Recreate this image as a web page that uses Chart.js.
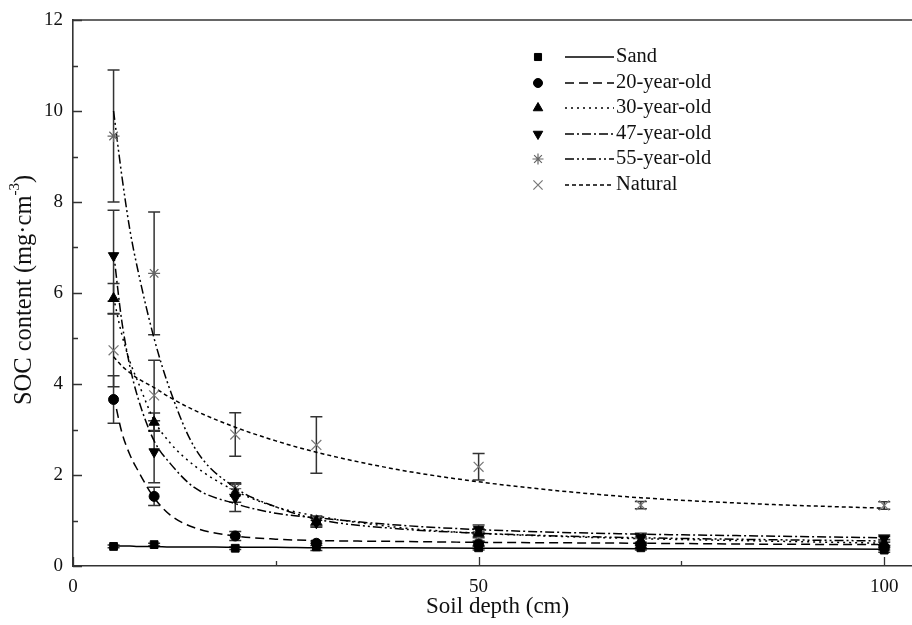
<!DOCTYPE html>
<html>
<head>
<meta charset="utf-8">
<script src="https://cdn.jsdelivr.net/npm/chart.js@4/dist/chart.umd.min.js"></script>
<style>
html,body{margin:0;padding:0;background:#fff;}
#wrap{width:912px;height:625px;position:relative;}
</style>
</head>
<body>
<div id="wrap"><canvas id="c" width="912" height="625"></canvas></div>
<script>
// ---- data ----
const seriesNames = ['Sand','20-year-old','30-year-old','47-year-old','55-year-old','Natural'];
const depths = [5, 10, 20, 30, 50, 70, 100];
const sandMean    = [0.43, 0.47, 0.39, 0.42, 0.40, 0.40, 0.35];
const sandErr     = [0.03, 0.03, 0.03, 0.08, 0.05, 0.05, 0.05];
const y20Mean     = [3.66, 1.53, 0.66, 0.50, 0.48, 0.45, 0.40];
const y20Err      = [0.52, 0.20, 0.10, 0.05, 0.05, 0.05, 0.05];
const y30Mean     = [5.88, 3.16, 1.60, 0.98, 0.72, 0.56, 0.50];
const y30Err      = [0.33, 0.20, 0.20, 0.10, 0.10, 0.08, 0.08];
const y47Mean     = [6.82, 2.51, 1.50, 0.95, 0.80, 0.62, 0.60];
const y47Err      = [1.00, 0.68, 0.30, 0.10, 0.10, 0.10, 0.08];
const y55Mean     = [9.45, 6.43, 1.70, 1.00, 0.65, 0.60, 0.55];
const y55Err      = [1.45, 1.35, 0.13, 0.10, 0.10, 0.10, 0.10];
const natMean     = [4.74, 3.75, 2.89, 2.66, 2.18, 1.34, 1.33];
const natErr      = [0.80, 0.77, 0.48, 0.62, 0.29, 0.08, 0.08];

// fitted curves at these depths
const curveX      = [5, 6, 7, 8, 10, 12, 15, 20, 25, 30, 40, 50, 60, 70, 85, 100];
const sandCurve   = [0.44,0.44,0.44,0.43,0.43,0.42,0.42,0.41,0.41,0.40,0.40,0.39,0.39,0.38,0.38,0.37];
const y20Curve    = [3.75,2.95,2.45,2.10,1.50,1.12,0.84,0.66,0.59,0.56,0.54,0.52,0.51,0.50,0.48,0.47];
const y30Curve    = [5.90,5.10,4.50,4.05,3.20,2.70,2.20,1.65,1.30,1.10,0.85,0.72,0.65,0.60,0.55,0.50];
const y47Curve    = [6.90,5.40,4.40,3.70,2.75,2.25,1.72,1.37,1.16,1.06,0.90,0.80,0.74,0.70,0.66,0.62];
const y55Curve    = [10.0,8.60,7.40,6.50,5.00,3.85,2.60,1.72,1.30,1.03,0.82,0.72,0.66,0.62,0.58,0.55];
const natCurve    = [4.60,4.40,4.25,4.12,3.92,3.70,3.42,3.05,2.75,2.50,2.12,1.85,1.65,1.50,1.36,1.27];

const xTickLabels = [0, 50, 100];
const yTickLabels = [0, 2, 4, 6, 8, 10, 12];

const xTitle = 'Soil depth (cm)';
const yTitleMain = 'SOC content (mg·cm';
const yTitleSup = '-3';
const yTitleEnd = ')';

// ---- styles ----
const means = [sandMean, y20Mean, y30Mean, y47Mean, y55Mean, natMean];
const errs = [sandErr, y20Err, y30Err, y47Err, y55Err, natErr];
const curves = [sandCurve, y20Curve, y30Curve, y47Curve, y55Curve, natCurve];
const markers = [
  {pointStyle:'rect', radius:5.5, rotation:0, fill:'#000', stroke:'#000', bw:1},
  {pointStyle:'circle', radius:5, rotation:0, fill:'#000', stroke:'#000', bw:1},
  {pointStyle:'triangle', radius:6, rotation:0, fill:'#000', stroke:'#000', bw:1},
  {pointStyle:'triangle', radius:6, rotation:180, fill:'#000', stroke:'#000', bw:1},
  {pointStyle:'star', radius:6, rotation:0, fill:'#666', stroke:'#666', bw:1.2},
  {pointStyle:'crossRot', radius:7, rotation:0, fill:'#777', stroke:'#777', bw:1.2}
];
const dashes = [[], [9,5], [2,4], [9,3,2,3], [9,3,2,3,2,3], [4,3]];

const FONT = "'Liberation Serif', 'Times New Roman', serif";

const datasets = [];
for (let i = 0; i < 6; i++) {
  datasets.push({
    label: seriesNames[i] + ' fit',
    type: 'scatter',
    data: curveX.map((x, j) => ({x: x, y: curves[i][j]})),
    showLine: true,
    borderColor: '#000',
    borderWidth: 1.5,
    borderDash: dashes[i],
    pointRadius: 0,
    fill: false,
    cubicInterpolationMode: 'monotone',
    order: 2
  });
}
for (let i = 0; i < 6; i++) {
  const m = markers[i];
  datasets.push({
    label: seriesNames[i],
    type: 'scatter',
    data: depths.map((x, j) => ({x: x, y: means[i][j]})),
    errs: errs[i],
    showLine: false,
    pointStyle: m.pointStyle,
    pointRadius: m.radius,
    pointRotation: m.rotation,
    pointBackgroundColor: m.fill,
    pointBorderColor: m.stroke,
    pointBorderWidth: m.bw,
    pointHoverRadius: m.radius,
    order: 1
  });
}

const errorBars = {
  id: 'errorBars',
  beforeDatasetsDraw(chart) {
    const ctx = chart.ctx, xs = chart.scales.x, ys = chart.scales.y;
    ctx.save();
    ctx.strokeStyle = '#333';
    ctx.lineWidth = 1.5;
    chart.data.datasets.forEach(ds => {
      if (!ds.errs) return;
      ds.data.forEach((p, j) => {
        const e = ds.errs[j];
        const px = xs.getPixelForValue(p.x);
        const top = ys.getPixelForValue(p.y + e);
        const bot = ys.getPixelForValue(p.y - e);
        ctx.beginPath();
        ctx.moveTo(px, top); ctx.lineTo(px, bot);
        ctx.moveTo(px - 6, top); ctx.lineTo(px + 6, top);
        ctx.moveTo(px - 6, bot); ctx.lineTo(px + 6, bot);
        ctx.stroke();
      });
    });
    ctx.restore();
  }
};

const frameAndText = {
  id: 'frameAndText',
  afterDraw(chart) {
    const ctx = chart.ctx, a = chart.chartArea, xs = chart.scales.x, ys = chart.scales.y;
    ctx.save();
    ctx.strokeStyle = '#333';
    ctx.lineWidth = 1.6;
    // top frame
    ctx.beginPath(); ctx.moveTo(a.left, a.top); ctx.lineTo(912, a.top); ctx.stroke();
    // ticks (inward)
    ctx.lineWidth = 1.3;
    ctx.beginPath();
    for (let v = 0; v <= 12; v++) {
      const py = Math.round(ys.getPixelForValue(v)) + 0.5;
      const len = (v % 2 === 0) ? 9 : 5;
      ctx.moveTo(a.left, py); ctx.lineTo(a.left + len, py);
    }
    for (let v = 0; v <= 100; v += 25) {
      const px = Math.round(xs.getPixelForValue(v)) + 0.5;
      const len = (v % 50 === 0) ? 9 : 5;
      ctx.moveTo(px, a.bottom); ctx.lineTo(px, a.bottom - len);
    }
    ctx.stroke();

    // axis titles
    ctx.fillStyle = '#111';
    ctx.font = '23px ' + FONT;
    ctx.textAlign = 'center';
    ctx.textBaseline = 'middle';
    ctx.fillText(xTitle, xs.getPixelForValue(50) + 19, 607);

    ctx.save();
    ctx.translate(25, 290);
    ctx.rotate(-Math.PI / 2);
    ctx.font = '24.5px ' + FONT;
    const w1 = ctx.measureText(yTitleMain).width;
    ctx.font = '15px ' + FONT;
    const w2 = ctx.measureText(yTitleSup).width;
    ctx.font = '24.5px ' + FONT;
    const w3 = ctx.measureText(yTitleEnd).width;
    const total = w1 + w2 + w3;
    let sx = -total / 2;
    ctx.textAlign = 'left';
    ctx.fillText(yTitleMain, sx, 0);
    sx += w1;
    ctx.font = '15px ' + FONT;
    ctx.fillText(yTitleSup, sx, -10);
    sx += w2;
    ctx.font = '24.5px ' + FONT;
    ctx.fillText(yTitleEnd, sx, 0);
    ctx.restore();

    // legend
    const rowY = [57, 83, 108, 134, 159, 185];
    for (let i = 0; i < 6; i++) {
      const y = rowY[i];
      const m = markers[i];
      ctx.fillStyle = m.fill;
      ctx.strokeStyle = m.stroke;
      ctx.lineWidth = m.bw;
      ctx.setLineDash([]);
      Chart.helpers.drawPoint(ctx, {pointStyle: m.pointStyle, radius: m.radius - 0.5, rotation: m.rotation, borderWidth: m.bw}, 538, y);
      ctx.strokeStyle = '#000';
      ctx.lineWidth = 1.5;
      ctx.setLineDash(dashes[i]);
      ctx.beginPath(); ctx.moveTo(565, y); ctx.lineTo(614, y); ctx.stroke();
      ctx.setLineDash([]);
      ctx.fillStyle = '#111';
      ctx.font = '20.5px ' + FONT;
      ctx.textAlign = 'left';
      ctx.textBaseline = 'middle';
      ctx.fillText(seriesNames[i], 616, y);
    }
    ctx.restore();
  }
};

new Chart(document.getElementById('c'), {
  type: 'scatter',
  data: {datasets},
  options: {
    responsive: false,
    animation: false,
    devicePixelRatio: 1,
    layout: {autoPadding: false, padding: {left: 0, right: 1, top: 20, bottom: 0}},
    plugins: {legend: {display: false}, tooltip: {enabled: false}},
    scales: {
      x: {
        type: 'linear', min: 0, max: 103.3,
        afterFit(s) { s.height = 59; s.paddingLeft = 0; s.paddingRight = 0; },
        grid: {display: false, drawTicks: false},
        border: {display: true, color: '#333', width: 1.6},
        afterBuildTicks(s) { s.ticks = xTickLabels.map(v => ({value: v})); },
        ticks: {padding: 10, color: '#111', font: {family: FONT, size: 19}, maxRotation: 0}
      },
      y: {
        type: 'linear', min: 0, max: 12,
        afterFit(s) { s.width = 73; s.paddingTop = 0; s.paddingBottom = 0; },
        grid: {display: false, drawTicks: false},
        border: {display: true, color: '#333', width: 1.6},
        afterBuildTicks(s) { s.ticks = yTickLabels.map(v => ({value: v})); },
        ticks: {padding: 10, color: '#111', font: {family: FONT, size: 19}}
      }
    }
  },
  plugins: [errorBars, frameAndText]
});
</script>
</body>
</html>
